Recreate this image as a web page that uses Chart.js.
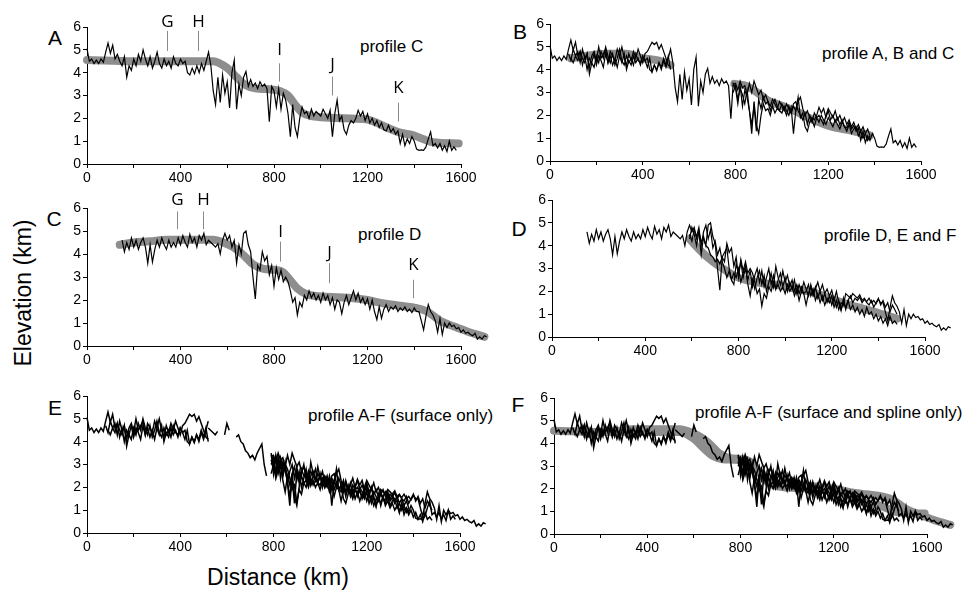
<!DOCTYPE html>
<html>
<head>
<meta charset="utf-8">
<script src="https://cdn.jsdelivr.net/npm/chart.js@4.4.1/dist/chart.umd.min.js"></script>
<style>
  html, body { margin: 0; padding: 0; background: #fff; }
  #fig { position: relative; width: 967px; height: 591px; overflow: hidden; font-family: "Liberation Sans", Arial, sans-serif; color: #000; }
  #fig canvas { position: absolute; }
  .txt { position: absolute; line-height: 1; white-space: nowrap; transform: translateY(-50%); }
  .letter { font-size: 21px; transform: translate(-50%, -50%); }
  .prof { font-size: 17px; }
  .axt { font-size: 23px; transform: translate(-50%, -50%); }
</style>
</head>
<body>
<div id="fig">
  <div class="txt letter" style="left:55px;top:37px">A</div>
  <div class="txt letter" style="left:520px;top:31px">B</div>
  <div class="txt letter" style="left:54px;top:218px">C</div>
  <div class="txt letter" style="left:519px;top:228px">D</div>
  <div class="txt letter" style="left:55px;top:407px">E</div>
  <div class="txt letter" style="left:518px;top:404px">F</div>

  <div class="txt prof" style="left:360px;top:46px">profile C</div>
  <div class="txt prof" style="left:822px;top:53px">profile A, B and C</div>
  <div class="txt prof" style="left:358px;top:234px">profile D</div>
  <div class="txt prof" style="left:824px;top:235px">profile D, E and F</div>
  <div class="txt prof" style="left:308px;top:415px">profile A-F (surface only)</div>
  <div class="txt prof" style="left:695px;top:412px">profile A-F (surface and spline only)</div>

  <div class="txt axt" style="left:23px;top:293px;transform:translate(-50%,-50%) rotate(-90deg)">Elevation (km)</div>
  <div class="txt axt" style="left:278px;top:577px">Distance (km)</div>
</div>
<script>
const SAMPLE_KM = 10;

// surface elevation (km) along each profile, one value every 10 km
const profileAStart = 80;
const profileA = [
  4.7, 4.4, 4.9, 4.6, 4.8, 4.3, 4.9, 4.5, 4.7, 4.1,
  4.6, 4.8, 4.4, 5.0, 4.5, 4.7, 4.9, 4.3, 4.8, 4.6,
  4.4, 4.9, 4.6, 5.0, 4.5, 4.2, 4.7, 4.4, 4.8, 4.5,
  4.9, 4.6, 4.3, 4.7, 4.8, 5.0, 5.2, 5.1, 5.2, 4.9,
  5.1, 4.8, 4.5, 4.2, 4.1,
  null, null, null, null, null, null, null, null, null, null, null, null, null,
  null, null, null, null, null, null, null, null, null, null, null, null, null,
  3.35, 3.4, 3.1, 3.5, 3.2, 3.3, 2.9, 3.4, 3.0, 3.5,
  3.2, 2.9, 3.1, 2.7, 2.9, 2.6, 2.4, 2.7, 2.5, 2.3,
  2.6, 2.4, 2.2, 2.5, 2.3, 2.1, 2.4, 2.2, 2.6, 2.8,
  2.3, 2.0, 2.2, 1.9, 1.7, 2.1, 1.9, 2.0, 1.8, 1.6,
  2.0, 2.3, 2.1, 1.9, 2.2, 1.8, 2.0, 1.7, 1.9, 1.6,
  1.8, 1.5, 1.7, 1.4, 1.6, 1.3, 1.5, 1.2, 1.4, 1.1
];

const profileBStart = 90;
const profileB = [
  4.5, 4.3, 4.6, 4.4, 4.8, 4.2, 4.6, 4.0, 4.5, 4.3,
  4.7, 4.2, 4.6, 4.4, 4.1, 4.7, 4.3, 4.6, 4.2, 4.5,
  4.1, 4.6, 4.3, 4.7, 4.0, 4.4, 4.2, 4.6, 4.3, 4.5,
  4.2, 4.6, 4.4, 4.1, 4.5, 3.9, 4.2, 4.0, 4.3, 4.1,
  4.5, 4.2, 4.6, 4.0,
  null, null, null, null, null, null, null, null, null, null, null, null, null,
  null, null, null, null, null, null, null, null, null, null, null, null, null,
  3.0, 3.3, 2.7, 3.2, 2.9, 2.5, 3.1, 2.2, 1.6, 2.4,
  1.3, 2.7, 2.3, 2.8, 2.5, 2.6, 2.2, 2.5, 2.7, 2.4,
  2.2, 2.5, 2.3, 2.0, 2.4, 2.1, 2.5, 2.6, 2.2, 2.0,
  1.8, 2.1, 1.6, 2.0, 1.8, 1.5, 1.9, 1.7, 2.0, 1.8,
  1.6, 1.9, 1.7, 1.5, 1.8, 1.6, 1.4, 1.7, 1.5, 1.3,
  1.6, 1.2, 1.4, 1.5, 1.1, 1.3, 1.0, 1.2, 0.9, 1.1
];

const profileCStart = 0;
const profileC = [
  5.05, 4.5, 4.6, 4.4, 4.55, 4.4, 4.6, 4.45, 4.9, 5.3,
  4.85, 5.2, 4.6, 4.8, 4.5, 4.3, 4.7, 3.8, 4.3, 4.1,
  4.6, 4.3, 4.8, 4.5, 5.0, 4.6, 4.3, 4.7, 4.2, 4.5,
  4.9, 4.4, 4.2, 4.6, 4.3, 4.5, 4.2, 4.7, 4.4, 4.3,
  4.6, 4.4, 4.5, 4.0, 3.9, 4.2, 3.95, 4.3, 4.0, 4.4,
  4.1, 4.5, 4.9, 4.3, 3.2, 2.6, 3.8, 2.7, 3.9, 3.1,
  3.6, 2.45, 4.0, 4.55, 2.4, 3.5, 3.0, 3.8, 4.05, 3.4,
  3.7, 3.4, 3.55, 3.3, 3.6, 3.4, 3.5, 3.3, 1.85, 3.4,
  3.2, 2.5, 3.3, 2.4, 3.1, 2.8, 2.2, 1.2, 2.6, 1.6,
  1.2, 2.0, 2.5, 2.2, 2.3, 2.0, 2.4, 2.1, 2.3, 2.2,
  2.1, 2.4, 2.2, 2.0, 2.35, 1.2, 2.2, 2.8, 1.9, 2.1,
  1.5, 1.3, 1.7, 1.9, 1.8, 2.0, 2.35, 2.1, 2.3, 1.9,
  2.2, 1.8, 2.0, 1.7, 1.9, 1.6, 1.8, 1.5, 1.45, 1.7,
  1.4, 1.55, 1.3, 1.45, 0.9, 1.3, 0.8, 1.1, 0.9, 1.2,
  1.0, 0.65, 0.6, 0.62, 0.6, 0.75, 1.1, 1.4, 0.8, 0.9,
  0.7, 0.9, 0.6, 0.8, 0.55, 1.0, 0.6, 0.75, 0.6
];

const profileDStart = 150;
const profileD = [
  4.6, 4.1, 4.5, 4.2, 4.7, 4.3, 4.6, 4.2, 4.5, 4.7,
  4.3, 3.6, 4.4, 3.65, 4.2, 4.6, 4.3, 4.7, 4.4, 4.2,
  4.6, 4.3, 4.5, 4.3, 4.7, 4.4, 4.8, 4.5, 4.3, 4.85,
  4.5, 4.7, 4.3, 4.8, 4.6, 4.9, 4.4, 4.6, 4.5, 4.4,
  4.3, 4.45, 4.0, 4.6, 4.9, 4.6, 4.8, 4.3, 4.6, 3.6,
  4.4, 4.0, 4.9, 5.0, 4.4, 4.1, 3.0, 2.05, 3.5, 3.3,
  4.1, 3.7, 3.9, 3.1, 3.5, 2.6, 3.4, 2.9, 3.3, 2.8,
  3.0, 2.8, 2.4, 1.9, 2.1, 1.35, 1.9, 1.7, 2.2, 2.0,
  2.4, 2.1, 2.3, 2.0, 2.2, 1.9, 2.3, 2.0, 2.2, 1.8,
  2.1, 1.6, 2.0, 1.9, 1.4, 1.9, 2.2, 1.8, 2.1, 2.4,
  2.0, 2.3, 1.9, 2.1, 1.8, 2.05, 1.6, 2.0, 1.5, 1.15,
  1.7, 1.2, 1.6, 1.8, 1.5, 1.7, 1.6, 1.75, 1.5, 1.65,
  1.55, 1.7, 1.5, 1.6, 1.45, 1.65, 1.5, 1.5, 1.1, 0.7,
  1.3, 1.8, 1.5, 1.35, 1.1, 0.6, 1.2, 0.5, 1.0, 0.8,
  1.0, 0.85, 0.9, 0.75, 0.8, 0.6, 0.7, 0.55, 0.6, 0.5,
  0.45, 0.55, 0.3, 0.4, 0.3, 0.45, 0.4
];

const profileEStart = 590;
const profileE = [
  4.3, 4.8, 4.5, 4.0, 4.6, 4.2, 4.3, 4.0, 3.9, 3.6,
  3.5, 3.3, 3.4, 3.2, 3.5, 3.7, 3.9, 3.0, 2.5, 2.8,
  2.6, 3.0, 2.4, 2.8, 3.1, 2.5, 2.9, 2.2, 2.7, 3.0,
  2.4, 2.9, 2.2, 2.6, 3.0, 2.3, 2.7, 2.1, 2.5, 2.8,
  2.2, 2.6, 2.0, 2.4, 2.1, 2.5, 1.9, 2.3, 2.0, 2.4,
  2.1, 1.8, 2.3, 1.9, 2.2, 1.7, 2.0, 1.6, 1.9, 1.5,
  1.8, 1.4, 1.7, 1.3, 1.6, 1.2, 1.5, 1.3, 1.6, 1.2,
  1.4, 1.1, 1.3, 1.0, 1.2, 0.9, 1.3, 1.0, 1.1, 0.8,
  1.0, 0.7, 0.9, 0.6, 0.8, 0.5, 0.9, 0.6, 0.7, 0.55
];

const profileFStart = 590;
const profileF = [
  4.5, 4.2, 4.7, 4.4, 4.8, 4.0, 4.6, 4.9, 4.3, 4.7,
  3.9, 4.2, 3.6, 3.9, 3.3, 3.0, 2.6, 2.9, 2.5, 2.3,
  3.2, 2.8, 3.3, 2.6, 3.0, 2.3, 1.8, 2.5, 2.1, 2.6,
  2.9, 2.3, 2.7, 2.0, 2.4, 2.8, 2.2, 3.1, 2.6, 2.3,
  2.9, 2.4, 2.7, 2.2, 2.5, 2.0, 2.3, 1.9, 2.2, 1.9,
  2.0, 2.3, 1.8, 2.1, 1.6, 1.9, 1.5, 1.8, 1.4, 1.7,
  1.5, 1.8, 1.3, 1.6, 1.2, 1.5, 1.4, 1.9, 1.8, 1.7,
  1.9, 1.8, 1.7, 1.85, 1.6, 1.7, 1.5, 1.4, 1.6, 1.3,
  1.5, 1.7, 1.4, 1.6, 1.3, 1.5, 1.1, 1.4, 1.2, 1.0
];

// stretches of each profile that are true surface (panels E and F), [from km, to km]
const surfaceC = [[0, 520], [790, 1600]];
const surfaceD = [[520, 560], [790, 1710]];
const surfaceE = [[590, 610], [640, 770], [790, 1480]];
const surfaceF = [[790, 1480]];

// fitted splines (gray bands): node km and elevation km
const splineCKm   = [0, 200, 400, 540, 600, 640, 680, 725, 770, 825, 860, 890, 920, 960, 1000, 1100, 1200, 1240, 1300, 1340, 1400, 1440, 1480, 1590];
const splineCElev = [4.55, 4.5, 4.5, 4.5, 4.2, 3.8, 3.45, 3.3, 3.28, 3.2, 3.0, 2.6, 2.25, 2.1, 2.05, 2.0, 1.95, 1.8, 1.52, 1.37, 1.25, 1.08, 0.95, 0.9];

const splineABCKm   = [90, 150, 250, 330, 400, 470, 520, 655, 795, 850, 900, 940, 1000, 1060, 1140, 1210, 1290, 1380];
const splineABCElev = [4.5, 4.6, 4.7, 4.7, 4.5, 4.4, 4.2, null, 3.38, 3.28, 2.95, 2.65, 2.42, 2.18, 1.78, 1.52, 1.35, 1.12];

const splineDKm   = [140, 200, 270, 340, 540, 570, 625, 670, 710, 755, 810, 840, 870, 900, 940, 1010, 1120, 1200, 1270, 1340, 1410, 1455, 1510, 1570, 1630, 1700];
const splineDElev = [4.4, 4.5, 4.55, 4.62, 4.62, 4.55, 4.3, 3.95, 3.55, 3.35, 3.3, 3.2, 2.85, 2.5, 2.25, 2.15, 2.1, 2.0, 1.85, 1.75, 1.65, 1.5, 1.1, 0.85, 0.62, 0.4];

const splineDEFKm   = [590, 630, 690, 740, 800, 880, 980, 1050, 1120, 1190, 1260, 1330, 1400, 1480];
const splineDEFElev = [4.3, 3.85, 3.3, 2.95, 2.6, 2.4, 2.25, 2.1, 1.95, 1.7, 1.45, 1.25, 1.05, 0.8];

// G-K landmarks: km, gray tick from/to (elevation) and label height
const markerLabels = ['G', 'H', 'I', 'J', 'K'];
const markerKmA     = [344, 475, 822, 1049, 1332];
const markerTopA    = [5.83, 5.83, 4.41, 3.83, 2.69];
const markerBotA    = [4.95, 4.95, 3.61, 3.0, 1.86];
const markerLabelA  = [6.23, 6.23, 4.98, 4.31, 3.32];
const markerKmC     = [383, 497, 825, 1036, 1396];
const markerTopC    = [5.85, 5.85, 4.54, 3.6, 2.88];
const markerBotC    = [5.08, 5.08, 3.67, 2.73, 2.08];
const markerLabelC  = [6.36, 6.36, 4.94, 4.04, 3.5];

// axis extent (profiles run a little past the last tick)
const X_MIN = 0, X_MAX = 1600, Y_MIN = 0, Y_MAX = 6;

// plot areas on the page (px)
const panelBoxes = {
  A: { left: 87, top: 27, right: 461, bottom: 164 },
  B: { left: 550, top: 24, right: 921, bottom: 161 },
  C: { left: 87, top: 208, right: 461, bottom: 346 },
  D: { left: 552, top: 200, right: 925, bottom: 337 },
  E: { left: 87, top: 396, right: 460, bottom: 533 },
  F: { left: 554, top: 398, right: 927, bottom: 534 }
};
const Y_AXIS_W = 30, X_AXIS_H = 24;
const PAD = { left: 50, top: 40, right: 60, bottom: 30 };
const FONT = '"Liberation Sans", Arial, sans-serif';

function toPoints(startKm, elev, ranges) {
  return elev.map((e, i) => {
    const km = startKm + i * SAMPLE_KM;
    const keep = !ranges || ranges.some(r => km >= r[0] && km <= r[1]);
    return { x: km, y: keep ? e : null };
  });
}

function surfaceSet(pts, w) {
  return { data: pts, borderColor: '#000', borderWidth: w, pointRadius: 0, tension: 0,
           spanGaps: false, clip: false, order: 1 };
}

function splineSet(km, elev) {
  return { data: km.map((x, i) => ({ x: x, y: elev[i] })), borderColor: '#8e8e8e', borderWidth: 8,
           borderCapStyle: 'round', borderJoinStyle: 'round', cubicInterpolationMode: 'monotone',
           pointRadius: 0, spanGaps: false, clip: false, order: 2 };
}

// draws the G..K landmark ticks above the profile
const landmarks = {
  id: 'landmarks',
  afterDatasetsDraw(chart, args, opts) {
    if (!opts.km) return;
    const { ctx, scales: { x, y } } = chart;
    ctx.save();
    opts.km.forEach((km, i) => {
      const px = Math.round(x.getPixelForValue(km)) + 0.5;
      ctx.strokeStyle = '#8a8a8a';
      ctx.lineWidth = 1;
      ctx.beginPath();
      ctx.moveTo(px, y.getPixelForValue(opts.top[i]));
      ctx.lineTo(px, y.getPixelForValue(opts.bottom[i]));
      ctx.stroke();
      ctx.fillStyle = '#000';
      ctx.font = '17px "Open Sans", ' + FONT;
      ctx.textAlign = 'center';
      ctx.textBaseline = 'middle';
      ctx.fillText(markerLabels[i], px, y.getPixelForValue(opts.label[i]));
    });
    ctx.restore();
  }
};

function makePanel(id, datasets, markers) {
  const b = panelBoxes[id];
  const cv = document.createElement('canvas');
  const w = b.right - b.left + PAD.left + PAD.right;
  const h = b.bottom - b.top + PAD.top + PAD.bottom;
  cv.width = w; cv.height = h;
  cv.style.left = (b.left - PAD.left) + 'px';
  cv.style.top = (b.top - PAD.top) + 'px';
  cv.style.width = w + 'px'; cv.style.height = h + 'px';
  document.getElementById('fig').appendChild(cv);

  const tickFont = { family: FONT, size: 14 };
  return new Chart(cv, {
    type: 'line',
    data: { datasets: datasets },
    options: {
      responsive: false,
      animation: false,
      devicePixelRatio: 1,
      layout: { padding: { left: PAD.left - Y_AXIS_W, top: PAD.top, right: PAD.right, bottom: PAD.bottom - X_AXIS_H } },
      plugins: { legend: { display: false }, tooltip: { enabled: false }, landmarks: markers || {} },
      scales: {
        x: {
          type: 'linear',
          // range set here (not min/max) so points past 1600 km are still drawn
          afterDataLimits(s) { s.min = X_MIN; s.max = X_MAX; },
          afterFit(s) { s.height = X_AXIS_H; },
          grid: { drawOnChartArea: false, color: '#000', tickLength: 4 },
          border: { color: '#000', width: 1 },
          ticks: { stepSize: 200, autoSkip: false, maxRotation: 0, padding: 2, color: '#000', font: tickFont,
                   callback: v => (v % 400 === 0 ? v : '') }
        },
        y: {
          min: Y_MIN, max: Y_MAX,
          afterFit(s) { s.width = Y_AXIS_W; },
          grid: { drawOnChartArea: false, color: '#000', tickLength: 4 },
          border: { color: '#000', width: 1 },
          ticks: { stepSize: 1, padding: 2, color: '#000', font: tickFont }
        }
      }
    },
    plugins: [landmarks]
  });
}

const ptsA = toPoints(profileAStart, profileA);
const ptsB = toPoints(profileBStart, profileB);
const ptsC = toPoints(profileCStart, profileC);
const ptsD = toPoints(profileDStart, profileD);
const ptsE = toPoints(profileEStart, profileE);
const ptsF = toPoints(profileFStart, profileF);

const surfA = ptsA;
const surfB = ptsB;
const surfC = toPoints(profileCStart, profileC, surfaceC);
const surfD = toPoints(profileDStart, profileD, surfaceD);
const surfE = toPoints(profileEStart, profileE, surfaceE);
const surfF = toPoints(profileFStart, profileF, surfaceF);

makePanel('A', [surfaceSet(ptsC, 1.2), splineSet(splineCKm, splineCElev)],
  { km: markerKmA, top: markerTopA, bottom: markerBotA, label: markerLabelA });
makePanel('B', [surfaceSet(ptsA, 1.2), surfaceSet(ptsB, 1.2), surfaceSet(ptsC, 1.2),
  splineSet(splineABCKm, splineABCElev)]);
makePanel('C', [surfaceSet(ptsD, 1.2), splineSet(splineDKm, splineDElev)],
  { km: markerKmC, top: markerTopC, bottom: markerBotC, label: markerLabelC });
makePanel('D', [surfaceSet(ptsD, 1.2), surfaceSet(ptsE, 1.2), surfaceSet(ptsF, 1.2),
  splineSet(splineDEFKm, splineDEFElev)]);
makePanel('E', [surfA, surfB, surfC, surfD, surfE, surfF].map(p => surfaceSet(p, 1.5)));
makePanel('F', [surfA, surfB, surfC, surfD, surfE, surfF].map(p => surfaceSet(p, 1.5))
  .concat([splineSet(splineCKm, splineCElev), splineSet(splineDKm, splineDElev)]));
</script>
</body>
</html>
